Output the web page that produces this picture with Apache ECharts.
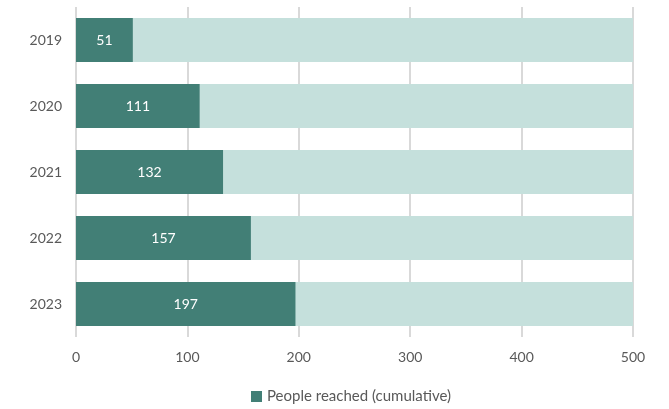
<!DOCTYPE html>
<html>
<head>
<meta charset="utf-8">
<script src="https://cdn.jsdelivr.net/npm/echarts@6/dist/echarts.min.js"></script>
<style>
  html, body { margin: 0; padding: 0; background: #fff; }
  #chart { width: 669px; height: 409px; }
</style>
</head>
<body>
<div id="chart"></div>
<script>
// data
const years = ["2019", "2020", "2021", "2022", "2023"];
const peopleReached = [51, 111, 132, 157, 197];
const target = [500, 500, 500, 500, 500];
const xTicks = [0, 100, 200, 300, 400, 500];

const chart = echarts.init(document.getElementById("chart"));
const font = "Lato, 'Open Sans', sans-serif";

const option = {
  animation: false,
  textStyle: { fontFamily: font },
  grid: { left: 76, right: 36, top: 7, bottom: 72 },
  legend: {
    data: ["People reached (cumulative)"],
    bottom: 0,
    left: 246,
    icon: "rect",
    itemWidth: 11,
    itemHeight: 11,
    itemGap: 4,
    textStyle: { color: "#595959", fontSize: 15, fontFamily: font }
  },
  xAxis: {
    type: "value",
    min: xTicks[0],
    max: xTicks[xTicks.length - 1],
    interval: 100,
    axisLine: { show: false },
    axisTick: { show: false },
    axisLabel: { color: "#595959", fontSize: 14, margin: 13 },
    splitLine: { lineStyle: { color: "#d9d9d9", width: 2 } }
  },
  yAxis: {
    type: "category",
    data: years,
    inverse: true,
    axisLine: { show: false },
    axisTick: { show: false },
    axisLabel: { color: "#595959", fontSize: 14, margin: 14 }
  },
  series: [
    {
      name: "Target",
      type: "bar",
      data: target,
      barWidth: "67%",
      itemStyle: { color: "#c5e0dc" },
      silent: true
    },
    {
      name: "People reached (cumulative)",
      type: "bar",
      data: peopleReached,
      barWidth: "67%",
      barGap: "-100%",
      itemStyle: { color: "#427f76" },
      label: {
        show: true,
        position: "inside",
        color: "#fff",
        fontSize: 14,
        fontFamily: font
      }
    }
  ]
};

chart.setOption(option);
</script>
</body>
</html>
